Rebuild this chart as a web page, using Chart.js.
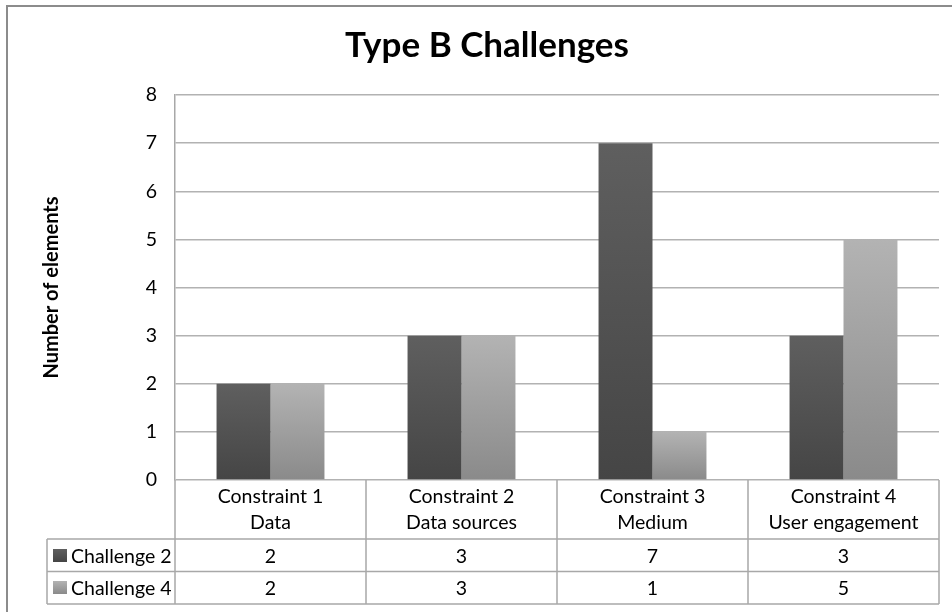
<!DOCTYPE html>
<html>
<head>
<meta charset="utf-8">
<title>Type B Challenges</title>
<script src="https://cdn.jsdelivr.net/npm/chart.js@4/dist/chart.umd.min.js"></script>
<style>
  html, body { margin: 0; padding: 0; background: #ffffff; }
  canvas { display: block; }
</style>
</head>
<body>
<canvas id="chart" width="952" height="612"></canvas>
<script>
// ---- chart content ----
const chartTitle = 'Type B Challenges';
const yAxisTitle = 'Number of elements';
const categories = [
  ['Constraint 1', 'Data'],
  ['Constraint 2', 'Data sources'],
  ['Constraint 3', 'Medium'],
  ['Constraint 4', 'User engagement']
];
const seriesNames = ['Challenge 2', 'Challenge 4'];
const challenge2 = [2, 3, 7, 3];
const challenge4 = [2, 3, 1, 5];
const yTicks = [0, 1, 2, 3, 4, 5, 6, 7, 8];

// ---- look ----
const FONT = 'Lato, "Open Sans", "DejaVu Sans", sans-serif';
const GRID = '#b2b2b2';
const TABLE_LINE = '#a8a8a8';
const shades = [
  { top: '#5f5f5f', bottom: '#454545' },
  { top: '#b3b3b3', bottom: '#8a8a8a' }
];

// vertical gradient spanning each bar from its value down to zero
function barFill(shade) {
  return (ctx) => {
    const chart = ctx.chart;
    if (!chart.chartArea || ctx.type !== 'data') return shade.bottom;
    const y = chart.scales.y;
    const v = ctx.raw;
    const g = chart.ctx.createLinearGradient(0, y.getPixelForValue(v), 0, y.getPixelForValue(0));
    g.addColorStop(0, shade.top);
    g.addColorStop(1, shade.bottom);
    return g;
  };
}

// grey frame around the whole figure
const framePlugin = {
  id: 'frame',
  beforeDraw(chart) {
    const ctx = chart.ctx;
    ctx.save();
    ctx.fillStyle = '#ffffff';
    ctx.fillRect(0, 0, chart.width, chart.height);
    ctx.strokeStyle = '#8c8c8c';
    ctx.lineWidth = 2;
    ctx.strokeRect(7, 6, chart.width + 20, chart.height + 20);
    ctx.restore();
  }
};

// chart heading
const headingPlugin = {
  id: 'heading',
  afterDraw(chart) {
    const ctx = chart.ctx;
    ctx.save();
    ctx.font = 'bold 35px ' + FONT;
    ctx.fillStyle = '#000000';
    ctx.textAlign = 'center';
    ctx.textBaseline = 'alphabetic';
    ctx.fillText(chartTitle, 487, 57);
    ctx.restore();
  }
};

// data table under the plot: category header row plus one row per series
const tablePlugin = {
  id: 'dataTable',
  afterDraw(chart) {
    const { ctx, chartArea: a, scales: { x } } = chart;
    const half = (x.getPixelForValue(1) - x.getPixelForValue(0)) / 2;
    const headBottom = 539;
    const rowBottoms = [571.5, 604];
    const legendLeft = 47;
    const values = [challenge2, challenge4];

    ctx.save();
    ctx.strokeStyle = TABLE_LINE;
    ctx.lineWidth = 1.5;
    ctx.beginPath();
    // horizontal rules
    [headBottom, ...rowBottoms].forEach((yy) => {
      ctx.moveTo(legendLeft, yy);
      ctx.lineTo(a.right, yy);
    });
    // left edge of the legend column
    ctx.moveTo(legendLeft, headBottom);
    ctx.lineTo(legendLeft, rowBottoms[rowBottoms.length - 1]);
    // column dividers
    categories.forEach((c, i) => {
      const xl = x.getPixelForValue(i) - half;
      ctx.moveTo(xl, a.bottom);
      ctx.lineTo(xl, rowBottoms[rowBottoms.length - 1]);
    });
    ctx.moveTo(a.right, a.bottom);
    ctx.lineTo(a.right, rowBottoms[rowBottoms.length - 1]);
    ctx.stroke();

    ctx.font = '19.5px ' + FONT;
    ctx.fillStyle = '#000000';
    ctx.textBaseline = 'alphabetic';
    ctx.textAlign = 'center';
    categories.forEach((lines, i) => {
      const cx = x.getPixelForValue(i);
      ctx.fillText(lines[0], cx, 503);
      ctx.fillText(lines[1], cx, 529);
    });
    const baselines = [563, 595];
    values.forEach((row, r) => {
      row.forEach((v, i) => {
        ctx.fillText(String(v), x.getPixelForValue(i), baselines[r]);
      });
    });

    // legend keys and series names
    ctx.textAlign = 'left';
    seriesNames.forEach((name, r) => {
      const ky = baselines[r] - 14;
      const g = ctx.createLinearGradient(0, ky, 0, ky + 13);
      g.addColorStop(0, shades[r].top);
      g.addColorStop(1, shades[r].bottom);
      ctx.fillStyle = g;
      ctx.fillRect(53, ky, 14, 13);
      ctx.fillStyle = '#000000';
      ctx.fillText(name, 71, baselines[r]);
    });
    ctx.restore();
  }
};

new Chart(document.getElementById('chart'), {
  type: 'bar',
  data: {
    labels: categories,
    datasets: [
      { label: seriesNames[0], data: challenge2, backgroundColor: barFill(shades[0]) },
      { label: seriesNames[1], data: challenge4, backgroundColor: barFill(shades[1]) }
    ]
  },
  options: {
    responsive: false,
    animation: false,
    devicePixelRatio: 1,
    layout: { padding: { top: 95, right: 13, bottom: 132, left: 0 } },
    datasets: { bar: { categoryPercentage: 0.565, barPercentage: 1 } },
    plugins: {
      legend: { display: false },
      title: { display: false },
      tooltip: { enabled: false }
    },
    scales: {
      x: { display: false },
      y: {
        min: yTicks[0],
        max: yTicks[yTicks.length - 1],
        afterFit(scale) { scale.width = 175; },
        afterBuildTicks(scale) { scale.ticks = yTicks.map((v) => ({ value: v })); },
        grid: { color: GRID, lineWidth: 1.5, drawTicks: false },
        border: { display: true, color: TABLE_LINE, width: 1.5 },
        ticks: { padding: 18, color: '#000000', font: { family: FONT, size: 19.5 } },
        title: {
          display: true,
          text: yAxisTitle,
          color: '#000000',
          font: { family: FONT, size: 20, weight: 'bold' },
          padding: { top: 40, bottom: 0 }
        }
      }
    }
  },
  plugins: [framePlugin, headingPlugin, tablePlugin]
});
</script>
</body>
</html>
